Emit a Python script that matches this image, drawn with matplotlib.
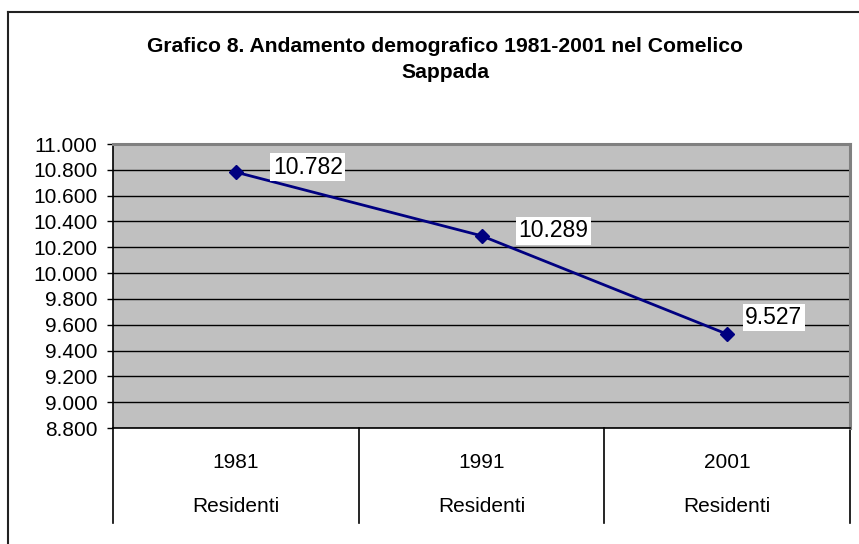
import numpy as np
import matplotlib
matplotlib.use("Agg")
import matplotlib.pyplot as plt
from matplotlib.lines import Line2D
from matplotlib.ticker import FuncFormatter

plt.rcParams['font.family'] = ['Liberation Sans', 'DejaVu Sans']

# ---- data ----
years = ["1981", "1991", "2001"]
series_name = "Residenti"
residents = [10782, 10289, 9527]
y_ticks = [8800, 9000, 9200, 9400, 9600, 9800, 10000, 10200, 10400, 10600, 10800, 11000]
title_line1 = "Grafico 8. Andamento demografico 1981-2001 nel Comelico"
title_line2 = "Sappada"

W, H = 859, 544
fig = plt.figure(figsize=(W / 100, H / 100), dpi=100)

# plot area in pixel coords
L, R, T, B = 113, 850, 144, 428
ax = fig.add_axes([L / W, 1 - B / H, (R - L) / W, (B - T) / H])
ax.set_facecolor('#C0C0C0')
ax.set_xlim(0, len(years))
ax.set_ylim(y_ticks[0], y_ticks[-1])
ax.set_yticks(y_ticks)
ax.yaxis.set_major_formatter(FuncFormatter(lambda v, p: f"{int(v):,}".replace(",", ".")))
ax.set_xticks([])
ax.yaxis.grid(True, color='black', lw=1)
ax.set_axisbelow(True)
ax.tick_params(axis='y', direction='out', length=4.3, width=1, pad=7, labelsize=15, colors='black')
for s in ['top', 'right']:
    ax.spines[s].set_color('#808080')
    ax.spines[s].set_linewidth(2.2)
for s in ['left', 'bottom']:
    ax.spines[s].set_color('black')
    ax.spines[s].set_linewidth(1.2)

xs = np.arange(len(years)) + 0.5
ax.plot(xs, residents, color='#000080', lw=2, marker='D', ms=7.5, zorder=5, clip_on=False)

# data labels (offsets in points)
offsets = [(26.6, 3.6), (26.6, 3.6), (13.0, 11.9)]
for x, v, (dx, dy) in zip(xs, residents, offsets):
    ax.annotate(f"{v:,}".replace(",", "."), xy=(x, v), xytext=(dx, dy),
                textcoords='offset points', ha='left', va='center', fontsize=16.5,
                bbox=dict(boxstyle='square,pad=0.1', fc='white', ec='none'), zorder=6)

# category table below axis
trans = ax.get_xaxis_transform()
h_ax = B - T
bottom_px = 523
for b in range(len(years) + 1):
    ax.plot([b, b], [0, -(bottom_px - B) / h_ax], transform=trans, color='black', lw=1.2, clip_on=False)
for x, yr in zip(xs, years):
    ax.text(x, -(462 - B) / h_ax, yr, transform=trans, ha='center', va='center', fontsize=15)
    ax.text(x, -(507 - B) / h_ax, series_name, transform=trans, ha='center', va='center', fontsize=15)

# outer chart frame (right and bottom edges lie outside the image)
fig.add_artist(Line2D([8 / W, 1], [1 - 12 / H, 1 - 12 / H], transform=fig.transFigure, color='#222222', lw=1.5))
fig.add_artist(Line2D([8 / W, 8 / W], [0, 1 - 12 / H], transform=fig.transFigure, color='#222222', lw=1.5))

# title
fig.text(445 / W, 1 - 46 / H, title_line1, ha='center', va='center', fontsize=15.2, fontweight='bold')
fig.text(445 / W, 1 - 73 / H, title_line2, ha='center', va='center', fontsize=15.2, fontweight='bold')

fig.savefig("out.png", dpi=100)
